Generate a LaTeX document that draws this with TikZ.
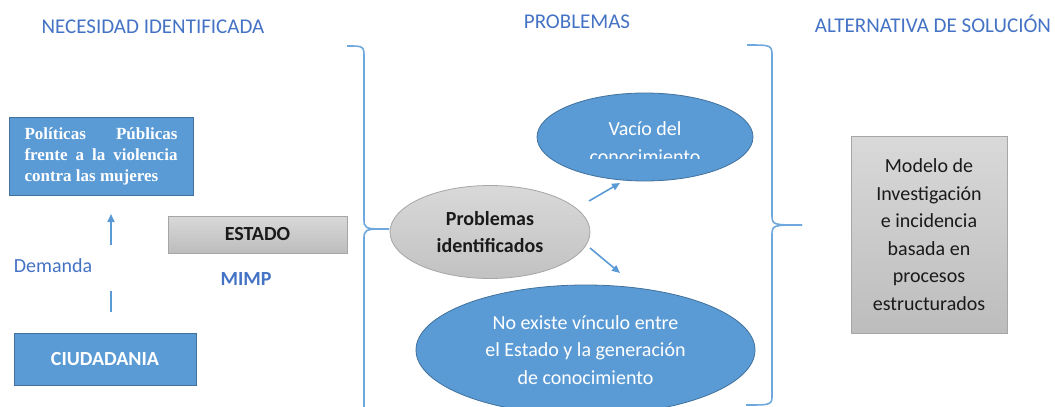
\documentclass[tikz,border=0pt]{standalone}
\usepackage{fontspec}
\setmainfont{Carlito}
\newfontfamily\timesfont{Liberation Serif}
\usetikzlibrary{arrows.meta,shapes.geometric}
\definecolor{azulcaja}{HTML}{5B9BD5}
\definecolor{bordeazul}{HTML}{41719C}
\definecolor{titazul}{HTML}{4472C4}
\definecolor{azulllave}{HTML}{6FA8DC}
\definecolor{bordegris}{HTML}{A6A6A6}
\definecolor{textogris}{HTML}{1A1A1A}
\tolerance=10000
\hyphenpenalty=10000
\newcommand\tamano{\fontsize{20}{27.5}\selectfont}
\tikzset{
  titulo/.style={text=titazul, anchor=base, font=\fontsize{21}{25}\selectfont},
  cajaazul/.style={draw=bordeazul, fill=azulcaja, text=white, line width=0.8pt},
  cajagris/.style={draw=bordegris, top color=gray!30, bottom color=gray!52, text=textogris, line width=0.8pt},
  elipseazul/.style={ellipse, draw=bordeazul, fill=azulcaja, text=white, inner sep=0pt, align=center, line width=0.8pt},
  azultexto/.style={text=titazul},
  flecha/.style={draw=azulcaja, line width=1.6pt, -{Triangle[width=7pt,length=8pt]}},
  llave/.style={draw=azulllave, line width=1.6pt}
}
\begin{document}
\begin{tikzpicture}[x=1pt,y=-1pt,font=\tamano]
  \useasboundingbox (0,0) rectangle (1055,407);

  % titulos
  \node[titulo] (tnecesidad) at (153,33) {NECESIDAD IDENTIFICADA};
  \node[titulo] (tproblemas) at (577,28) {PROBLEMAS};
  \node[titulo] (talternativa) at (933,32) {ALTERNATIVA DE SOLUCIÓN};

  % necesidad identificada
  \node[cajaazul, text width=153pt, minimum width=184pt, minimum height=78pt, align=justify,
        font=\timesfont\bfseries\fontsize{17}{21}\selectfont] (politicas) at (101,156)
        {Políticas Públicas frente a la violencia contra las mujeres};
  \node[cajaazul, minimum width=182pt, minimum height=52pt, font=\tamano\bfseries] (ciudadania) at (105,359) {CIUDADANIA};
  \node[cajagris, minimum width=179pt, minimum height=37pt, font=\tamano\bfseries] (estado) at (257.5,234.5) {ESTADO};
  \node[azultexto] (demanda) at (53,266) {Demanda};
  \node[azultexto, font=\tamano\bfseries] (mimp) at (246,279) {MIMP};

  \coordinate (dem1) at (111,245);
  \coordinate (dem2) at (111,214);
  \coordinate (dem3) at (111,312);
  \coordinate (dem4) at (111,291);
  \draw[flecha] (dem1) -- (dem2);
  \draw[draw=azulcaja, line width=1.6pt] (dem3) -- (dem4);

  % llaves
  \draw[llave] (347,46) .. controls (364,46) .. (364,58) -- (364,218)
    .. controls (364,229) .. (389,229);
  \draw[llave] (389,229) .. controls (364,229) .. (364,240) -- (364,407);
  \draw[llave] (747,45) .. controls (772,45) .. (772,57) -- (772,214)
    .. controls (772,225) .. (802,225);
  \draw[llave] (802,225) .. controls (772,225) .. (772,236) -- (772,394)
    .. controls (772,405) .. (746,405);

  % problemas
  \node[ellipse, draw=bordegris, top color=gray!30, bottom color=gray!48, text=textogris, minimum width=200pt, minimum height=93pt,
        inner sep=0pt, align=center, font=\tamano\bfseries, line width=0.8pt] (problemas) at (490,232)
        {Problemas\\identificados};
  \node[elipseazul, minimum width=216pt, minimum height=88pt] (vacio) at (645,137) {};
  \begin{scope}
    \clip (540,95) rectangle (750,158);
    \node[text=white, align=center] (tvacio) at (645,142.5) {Vacío del\\conocimiento};
  \end{scope}
  \node[elipseazul, minimum width=339pt, minimum height=130pt] (vinculo) at (585.5,350)
        {No existe vínculo entre\\el Estado y la generación\\de conocimiento};

  \coordinate (p1) at (589,201);
  \coordinate (p2) at (620,183);
  \coordinate (p3) at (590,248);
  \coordinate (p4) at (620,273);
  \draw[flecha] (p1) -- (p2);
  \draw[flecha] (p3) -- (p4);

  % alternativa de solucion
  \node[cajagris, minimum width=156pt, minimum height=197pt, align=center] (modelo) at (929,234.5)
        {Modelo de\\Investigación\\e incidencia\\basada en\\procesos\\estructurados};
\end{tikzpicture}
\end{document}
